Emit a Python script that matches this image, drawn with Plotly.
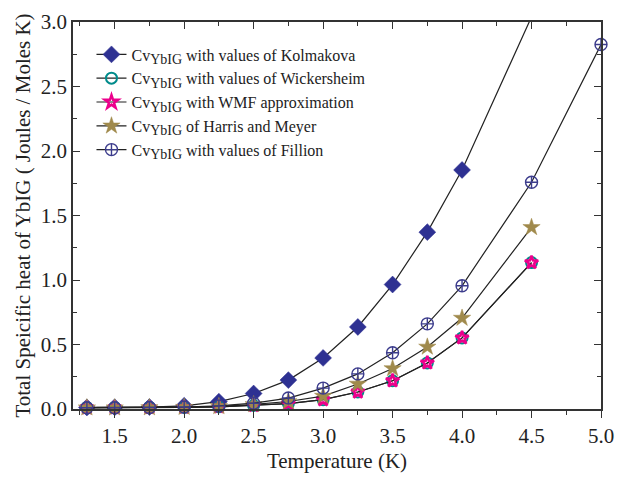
import plotly.graph_objects as go

temps = [1.3, 1.5, 1.75, 2.0, 2.25, 2.5, 2.75, 3.0, 3.25, 3.5, 3.75, 4.0, 4.5]
temps_fillion = [1.3, 1.5, 1.75, 2.0, 2.25, 2.5, 2.75, 3.0, 3.25, 3.5, 3.75, 4.0, 4.5, 5.0]

kolmakova = [0.012, 0.013, 0.015, 0.025, 0.057, 0.12, 0.224, 0.396, 0.636, 0.965, 1.371, 1.853, 3.04]
wickersheim = [0.01, 0.01, 0.011, 0.013, 0.017, 0.027, 0.042, 0.072, 0.132, 0.219, 0.357, 0.551, 1.135]
wmf = [0.01, 0.01, 0.011, 0.013, 0.017, 0.027, 0.042, 0.072, 0.132, 0.219, 0.357, 0.551, 1.135]
harris = [0.01, 0.01, 0.011, 0.014, 0.02, 0.035, 0.058, 0.10, 0.194, 0.314, 0.481, 0.705, 1.408]
fillion = [0.01, 0.01, 0.012, 0.015, 0.024, 0.045, 0.085, 0.162, 0.272, 0.436, 0.66, 0.955, 1.758, 2.825]

SUB = "<sub><span style='font-size:14px'>YbIG</span></sub>"
names = [
    "Cv" + SUB + " with values of Kolmakova",
    "Cv" + SUB + " with values of Wickersheim",
    "Cv" + SUB + " with WMF approximation",
    "Cv" + SUB + " of Harris and Meyer",
    "Cv" + SUB + " with values of Fillion",
]

FONT = "Liberation Serif"
line = dict(color="#222222", width=1.2)

fig = go.Figure()
fig.add_trace(go.Scatter(x=temps, y=kolmakova, name=names[0], mode="lines+markers", line=line,
                         marker=dict(symbol="diamond", size=13, color="#2E3192",
                                     line=dict(color="#2E3192", width=0.5)), cliponaxis=False))
fig.add_trace(go.Scatter(x=temps, y=wickersheim, name=names[1], mode="lines+markers", line=line,
                         marker=dict(symbol="circle-open", size=11, color="#008B8B",
                                     line=dict(color="#008B8B", width=2)), cliponaxis=False))
fig.add_trace(go.Scatter(x=temps, y=wmf, name=names[2], mode="lines+markers", line=line,
                         marker=dict(symbol="star-open", size=10, color="#EC008C",
                                     line=dict(color="#EC008C", width=2.5)), cliponaxis=False))
fig.add_trace(go.Scatter(x=temps, y=harris, name=names[3], mode="lines+markers", line=line,
                         marker=dict(symbol="star", size=13, color="#A08A4C",
                                     line=dict(color="#A08A4C", width=0.5)), cliponaxis=False))
fig.add_trace(go.Scatter(x=temps_fillion, y=fillion, name=names[4], mode="lines+markers", line=line,
                         marker=dict(symbol="circle-cross-open", size=12, color="#3C3C8C",
                                     line=dict(color="#3C3C8C", width=1.4)), cliponaxis=False))
# dummy trace to activate the top axis
fig.add_trace(go.Scatter(x=[None], y=[None], xaxis="x2", showlegend=False, hoverinfo="skip"))

axcol = "#333333"
fig.update_layout(
    width=636, height=479,
    margin=dict(l=73, r=35, t=10, b=68),
    paper_bgcolor="white", plot_bgcolor="white",
    font=dict(family=FONT, size=20, color="#222222"),
    showlegend=True,
    legend=dict(x=0.035, y=0.96, xanchor="left", yanchor="top",
                font=dict(family=FONT, size=16, color="#222222"),
                bgcolor="rgba(0,0,0,0)", itemwidth=30, tracegroupgap=0),
    xaxis=dict(range=[1.2, 5.0], dtick=0.5, tick0=0, tickformat=".1f",
               ticks="outside", ticklen=7, tickwidth=1.3, tickcolor=axcol,
               showline=True, linecolor=axcol, linewidth=1.5, showgrid=False, zeroline=False,
               minor=dict(dtick=0.25, tick0=0, ticks="outside", ticklen=4, tickcolor=axcol, showgrid=False),
               title=dict(text="Temperature (K)", font=dict(family=FONT, size=21), standoff=6),
               tickfont=dict(family=FONT, size=21), ticklabeloverflow="allow"),
    xaxis2=dict(range=[1.2, 5.0], overlaying="x", side="top", dtick=0.5, tick0=0,
                ticks="inside", ticklen=7, tickwidth=1.3, tickcolor=axcol, showticklabels=False,
                showline=True, linecolor=axcol, linewidth=1.5, showgrid=False, zeroline=False,
                minor=dict(dtick=0.25, tick0=0, ticks="inside", ticklen=4, tickcolor=axcol, showgrid=False)),
    yaxis=dict(range=[0, 3.0], dtick=0.5, tick0=0, tickformat=".1f",
               ticks="inside", ticklen=7, tickwidth=1.3, tickcolor=axcol,
               showline=True, linecolor=axcol, linewidth=1.5, mirror="ticks",
               showgrid=False, zeroline=False,
               minor=dict(dtick=0.25, tick0=0, ticks="inside", ticklen=4, tickcolor=axcol, showgrid=False),
               title=dict(text="Total Speicific heat of YbIG ( Joules / Moles K)",
                          font=dict(family=FONT, size=21), standoff=4),
               tickfont=dict(family=FONT, size=21), ticklabeloverflow="allow"),
)

fig.write_html("out.html")
